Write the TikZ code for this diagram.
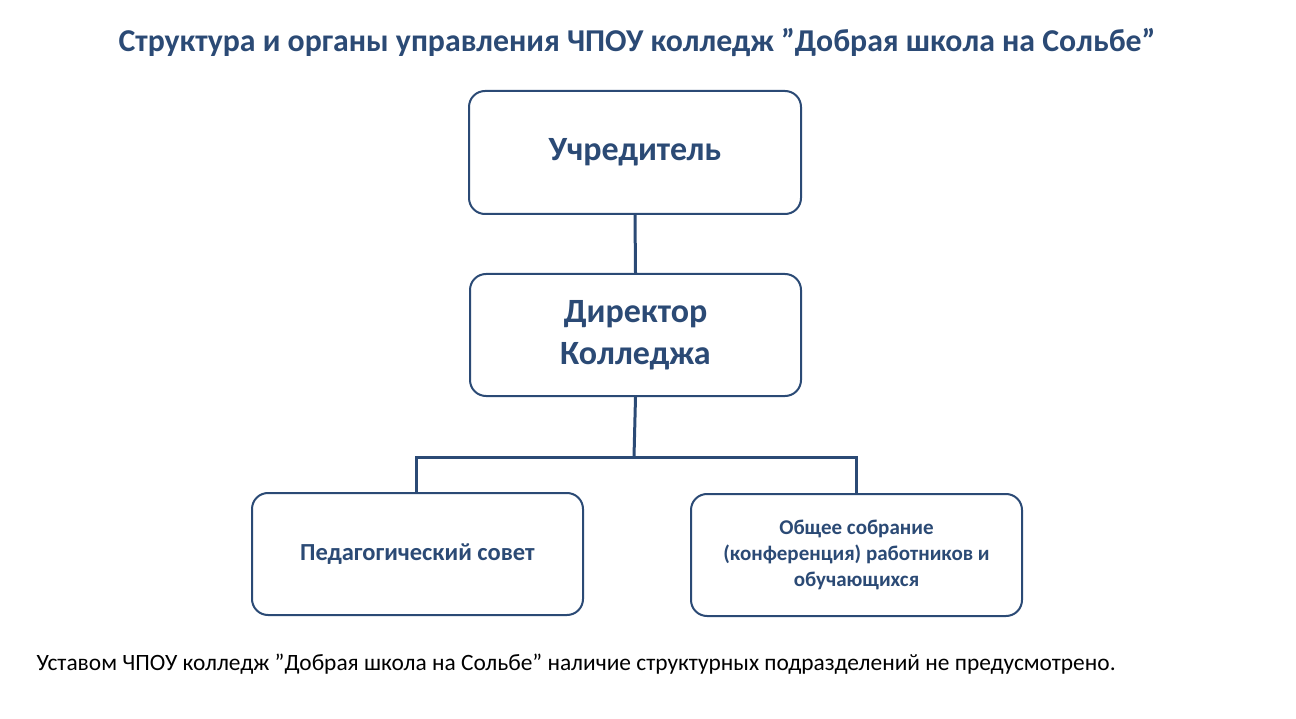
\documentclass[tikz,border=0pt]{standalone}
\usepackage{fontspec}
\setmainfont{Carlito}
\definecolor{navy}{HTML}{2B4A75}
\newcommand{\qq}{\char34\relax}
\begin{document}
\begin{tikzpicture}[x=1pt,y=-1pt,
  box/.style={draw=navy,line width=2pt,rounded corners=16pt,fill=white,text=navy,font=\bfseries,align=center,anchor=north west},
  conn/.style={draw=navy,line width=3pt}]
\useasboundingbox (0,0) rectangle (1296,719);
\node[text=navy,font=\fontsize{31.8}{36}\selectfont\bfseries] (title) at (637,42) {Структура и органы управления ЧПОУ колледж \qq Добрая школа на Сольбе\qq};
\node[box,minimum width=332pt,minimum height=123pt,font=\fontsize{34}{40}\selectfont\bfseries] (u) at (468,90) {Учредитель};
\node[box,minimum width=331pt,minimum height=122pt,font=\fontsize{34}{42}\selectfont\bfseries] (d) at (469,273) {Директор\\Колледжа};
\node[box,minimum width=331pt,minimum height=122pt,font=\fontsize{24.5}{28}\selectfont\bfseries] (p) at (251,492) {Педагогический совет};
\node[box,minimum width=331pt,minimum height=122pt,font=\fontsize{21}{26}\selectfont\bfseries] (o) at (690,493) {Общее собрание\\(конференция) работников и\\обучающихся};
\coordinate (j) at (634,457);
\draw[conn] (u.south) -- (d.north);
\draw[conn] (d.south) -- (j);
\draw[conn] (p.north -| 416,0) |- (j) -| (o.north -| 856,0);
\node[anchor=west,font=\fontsize{23.4}{28}\selectfont] (f) at (33,664) {Уставом ЧПОУ колледж \qq Добрая школа на Сольбе\qq{} наличие структурных подразделений не предусмотрено.};
\end{tikzpicture}
\end{document}
